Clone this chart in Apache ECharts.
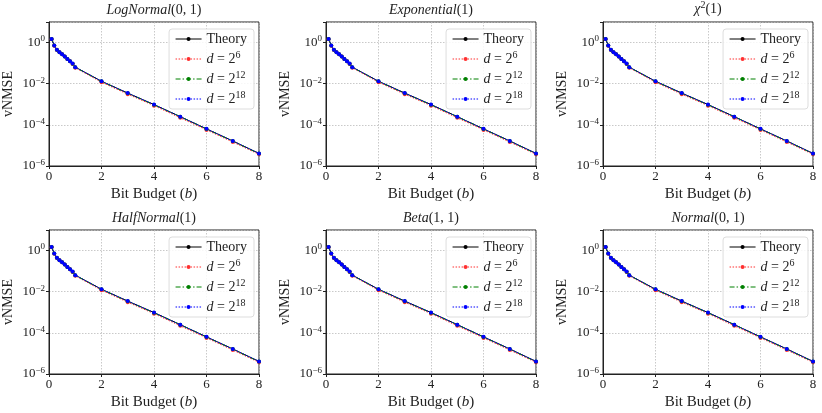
<!DOCTYPE html>
<html>
<head>
<meta charset="utf-8">
<script src="https://cdn.jsdelivr.net/npm/echarts@6/dist/echarts.min.js"></script>
<style>
  html, body { margin: 0; padding: 0; background: #fff; }
  #chart { width: 822px; height: 413px; }
</style>
</head>
<body>
<div id="chart"></div>
<script>
// bit budgets on the x axis
const bits = [0.1, 0.2, 0.3, 0.4, 0.5, 0.6, 0.7, 0.8, 0.9, 1, 2, 3, 4, 5, 6, 7, 8];

// vNMSE (same shape in all six panels)
const theory = [1.5, 0.72, 0.45, 0.34, 0.27, 0.21, 0.16, 0.125, 0.095, 0.064, 0.0132, 0.0035, 0.00097, 0.00025, 0.000064, 0.0000165, 0.0000041];
const d6  = [1.45, 0.70, 0.44, 0.34, 0.27, 0.21, 0.16, 0.123, 0.092, 0.060, 0.0118, 0.0031, 0.00086, 0.00022, 0.000057, 0.0000146, 0.0000037];
const d12 = [1.49, 0.72, 0.45, 0.34, 0.27, 0.21, 0.16, 0.124, 0.094, 0.063, 0.0130, 0.0034, 0.00095, 0.00025, 0.000063, 0.0000162, 0.0000040];
const d18 = [1.5, 0.72, 0.45, 0.34, 0.27, 0.21, 0.16, 0.125, 0.095, 0.064, 0.0132, 0.0035, 0.00097, 0.00025, 0.000064, 0.0000165, 0.0000041];

const titles = ['{i|LogNormal}(0, 1)', '{i|Exponential}(1)', '{i|χ}{s|2}(1)',
                '{i|HalfNormal}(1)', '{i|Beta}(1, 1)', '{i|Normal}(0, 1)'];

const seriesDefs = [
  { name: 'Theory', label: 'Theory', data: theory, color: '#000000', type: 'solid' },
  { name: 'd6', label: '{i|d} = 2{s|6}', data: d6, color: '#ff3030', type: [1.5, 1.5] },
  { name: 'd12', label: '{i|d} = 2{s|12}', data: d12, color: '#008000', type: [5, 2, 1.5, 2] },
  { name: 'd18', label: '{i|d} = 2{s|18}', data: d18, color: '#0000ff', type: [1.5, 1.5] }
];

const FONT = 'Liberation Serif';
const INK = '#222';
const lefts = [49, 326, 603];
const tops = [22, 230];
const W = 210, H = 144;

function richFor(size) {
  return {
    i: { fontStyle: 'italic', fontFamily: FONT, fontSize: size, color: INK },
    s: { fontSize: Math.round(size * 0.68), fontFamily: FONT, color: INK, padding: [0, 0, Math.round(size * 0.55), 0] }
  };
}

const grid = [], xAxis = [], yAxis = [], title = [], legend = [], series = [];

titles.forEach((t, k) => {
  const left = lefts[k % 3];
  const top = tops[Math.floor(k / 3)];
  const hasSup = t.indexOf('{s|') >= 0;
  grid.push({ left: left, top: top, width: W, height: H, show: true, borderColor: INK, borderWidth: 1, backgroundColor: 'transparent' });
  title.push({
    text: t, left: left + W / 2, top: top - (hasSup ? 22 : 19), textAlign: 'center', padding: 0,
    textStyle: { fontFamily: FONT, fontSize: 14, fontWeight: 'normal', color: INK, rich: richFor(14) }
  });
  xAxis.push({
    type: 'value', gridIndex: k, min: 0, max: 8, interval: 2,
    name: 'Bit Budget ({i|b})', nameLocation: 'middle', nameGap: 21,
    nameTextStyle: { fontFamily: FONT, fontSize: 15, color: INK, rich: richFor(15) },
    axisLine: { show: true, onZero: false, lineStyle: { color: INK, width: 1 } },
    axisTick: { show: true, length: 3, lineStyle: { color: INK } },
    axisLabel: { fontFamily: FONT, fontSize: 13, color: INK, margin: 4 },
    splitLine: { show: true, lineStyle: { color: '#bbb', type: [1.5, 1.5], width: 0.8 } }
  });
  yAxis.push({
    type: 'log', gridIndex: k, min: 1e-6, max: 10, interval: 2,
    name: 'vNMSE', nameLocation: 'middle', nameGap: 34,
    nameTextStyle: { fontFamily: FONT, fontSize: 14, color: INK },
    axisLine: { show: true, lineStyle: { color: INK, width: 1 } },
    axisTick: { show: true, length: 3, lineStyle: { color: INK } },
    axisLabel: {
      fontFamily: FONT, fontSize: 13, color: INK, margin: 4,
      formatter: function (v) {
        const e = Math.round(Math.log10(v));
        if (e % 2 !== 0 || e > 0) return '';
        return '10{s|' + (e < 0 ? '−' + (-e) : e) + '}';
      },
      rich: { s: { fontSize: 9, fontFamily: FONT, color: INK, padding: [0, 0, 7, 0] } }
    },
    splitLine: { show: true, lineStyle: { color: '#bbb', type: [1.5, 1.5], width: 0.8 } }
  });
  legend.push({
    orient: 'vertical',
    right: 822 - (left + W) + 5, top: top + 7,
    data: seriesDefs.map(s => s.name),
    formatter: function (name) { return seriesDefs.find(s => s.name === name).label; },
    itemWidth: 26, itemHeight: 5, itemGap: 4,
    padding: [3, 7, 3, 6],
    borderColor: '#ddd', borderWidth: 1, borderRadius: 3,
    backgroundColor: 'rgba(255,255,255,0.85)',
    selectedMode: false,
    lineStyle: { width: 1 },
    textStyle: { fontFamily: FONT, fontSize: 14, color: INK, lineHeight: 14, rich: richFor(14) }
  });
  seriesDefs.forEach(s => {
    series.push({
      name: s.name, type: 'line', xAxisIndex: k, yAxisIndex: k,
      data: bits.map((b, j) => [b, s.data[j]]),
      symbol: 'circle', symbolSize: s.name === 'Theory' ? 3 : 4,
      showSymbol: true, animation: false,
      lineStyle: { color: s.color, width: 1, type: s.type },
      itemStyle: { color: s.color }
    });
  });
});

const chart = echarts.init(document.getElementById('chart'));
chart.setOption({
  backgroundColor: '#fff',
  animation: false,
  title: title, grid: grid, xAxis: xAxis, yAxis: yAxis, legend: legend, series: series
});
</script>
</body>
</html>
